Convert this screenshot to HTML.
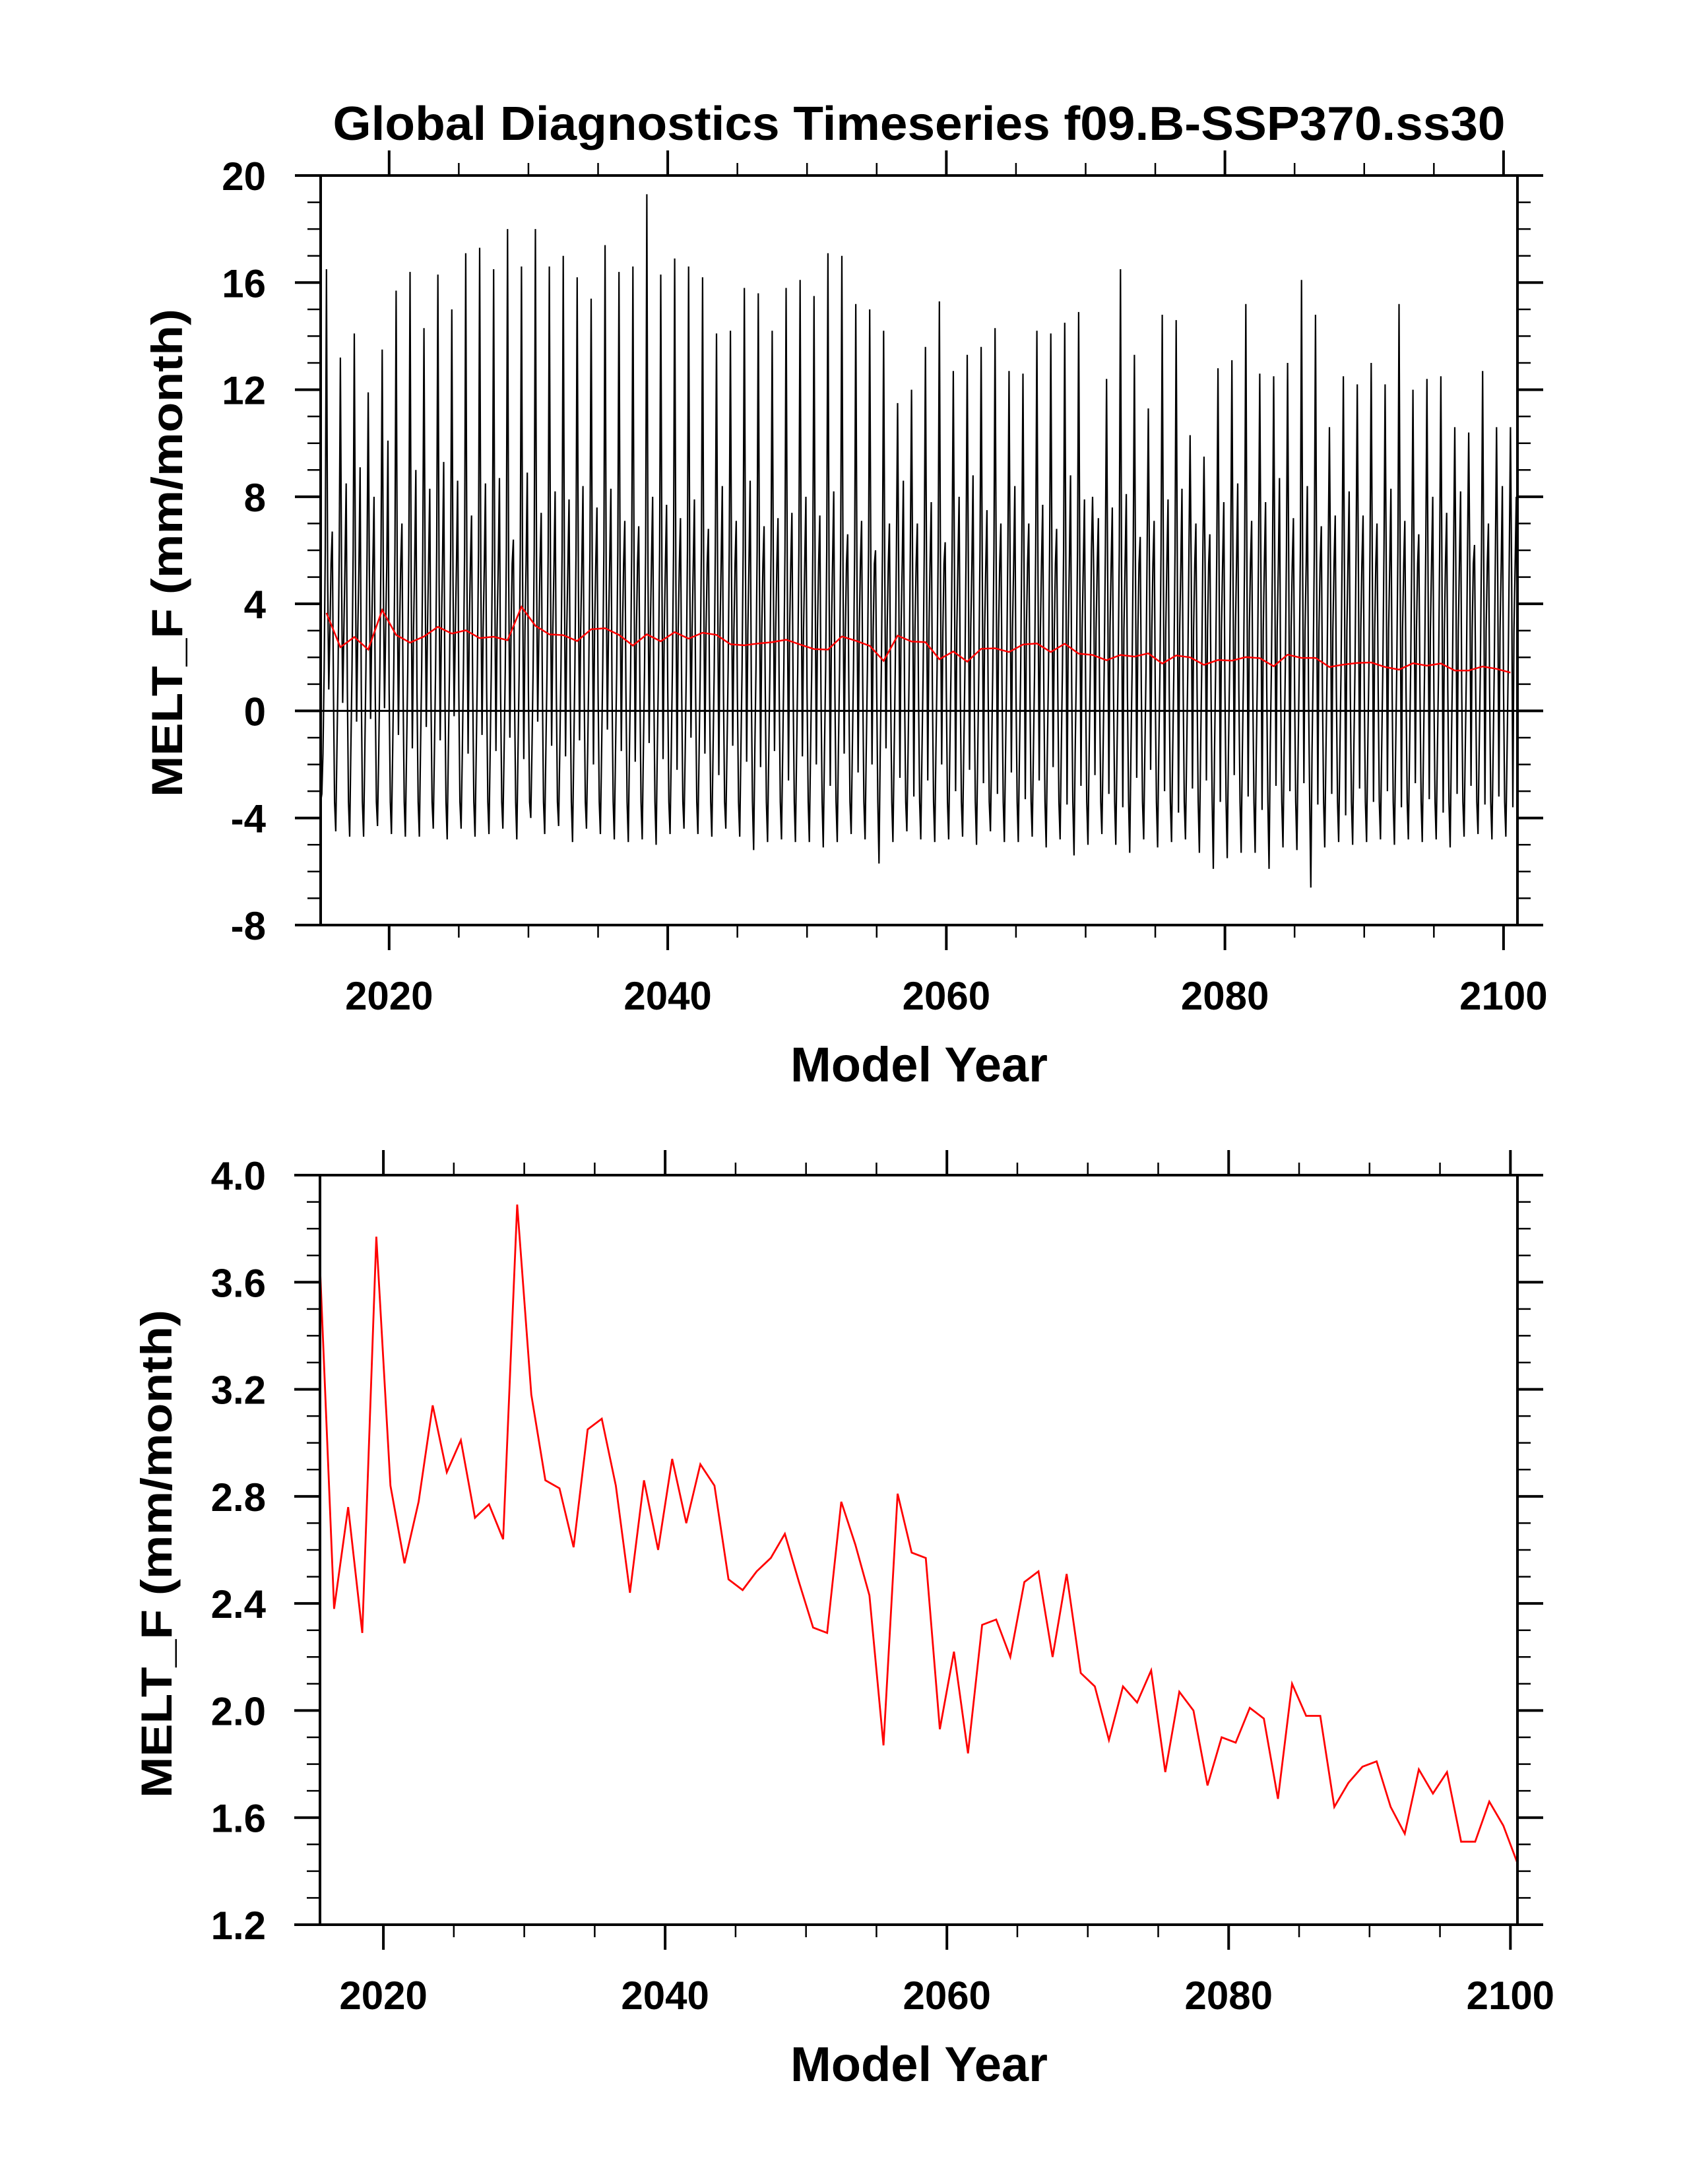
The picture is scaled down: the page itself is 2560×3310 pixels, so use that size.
<!DOCTYPE html>
<html><head><meta charset="utf-8">
<style>
html,body{margin:0;padding:0;background:#fff;}
svg{display:block;font-family:"Liberation Sans",Arial,sans-serif;font-weight:bold;}
</style></head>
<body>
<svg id="chart" width="2560" height="3310" viewBox="0 0 2560 3310" xmlns="http://www.w3.org/2000/svg">
<rect x="0" y="0" width="2560" height="3310" fill="#fff"/>
<text x="1393" y="212" text-anchor="middle" font-size="72" textLength="1777" lengthAdjust="spacingAndGlyphs">Global Diagnostics Timeseries f09.B-SSP370.ss30</text>
<g id="topPanel"></g>
<g id="botPanel"></g>
</svg>
<script>
const years = [];
for (let y = 2015; y <= 2100; y++) years.push(y);
const annualMean = [3.66,2.38,2.76,2.29,3.77,2.84,2.55,2.78,3.14,2.89,3.01,2.72,2.77,2.64,3.89,3.18,2.86,2.83,2.61,3.05,3.09,2.84,2.44,2.86,2.60,2.94,2.70,2.92,2.84,2.49,2.45,2.52,2.57,2.66,2.48,2.31,2.29,2.78,2.62,2.43,1.87,2.81,2.59,2.57,1.93,2.22,1.84,2.32,2.34,2.20,2.48,2.52,2.20,2.51,2.14,2.09,1.89,2.09,2.03,2.15,1.77,2.07,2.00,1.72,1.90,1.88,2.01,1.97,1.67,2.10,1.98,1.98,1.64,1.73,1.79,1.81,1.64,1.54,1.78,1.69,1.77,1.51,1.51,1.66,1.57,1.43];
const bigPeak = [16.5,13.2,14.1,11.9,13.5,15.7,16.4,14.3,16.3,15.0,17.1,17.3,16.5,18.0,16.6,18.0,16.6,17.0,16.2,15.4,17.4,16.4,16.6,19.3,16.3,16.9,16.6,16.2,14.1,14.2,15.8,15.6,14.2,15.8,16.1,15.5,17.1,17.0,15.2,15.0,14.2,11.5,12.0,13.6,15.3,12.7,13.3,13.6,14.3,12.7,12.6,14.2,14.1,14.5,14.9,8.0,12.4,16.5,13.3,11.3,14.8,14.6,10.3,9.5,12.8,13.1,15.2,12.6,12.5,13.0,16.1,14.8,10.6,12.5,12.2,13.0,12.2,15.2,12.0,12.4,12.5,10.6,10.4,12.7,10.6,10.6];
const midPeak = [6.7,8.5,9.1,8.0,10.1,7.0,9.0,8.3,9.3,8.6,7.3,8.5,8.7,6.4,8.9,7.4,8.2,7.9,8.4,7.6,8.3,7.1,6.9,8.0,7.7,7.2,7.9,6.8,8.4,7.1,8.6,6.9,7.2,7.4,8.0,7.3,8.2,6.6,7.1,6.0,7.0,8.6,7.0,7.8,6.3,8.0,8.8,7.5,7.0,8.4,7.0,7.7,6.8,8.8,7.9,7.2,7.6,8.1,6.5,7.1,7.9,8.3,7.0,6.6,7.8,8.5,7.1,7.8,8.7,7.2,8.4,6.9,7.3,8.2,7.3,7.0,8.3,7.1,6.6,8.0,7.4,8.2,6.2,7.0,8.4,8.0];
const shallowDip = [0.8,0.3,-0.4,-0.3,0.1,-0.9,-1.4,-0.6,-1.1,-0.2,-1.6,-0.9,-1.5,-1.0,-1.8,-0.4,-1.3,-1.7,-1.1,-2.0,-0.7,-1.5,-1.9,-1.2,-1.8,-2.2,-1.0,-1.6,-2.4,-1.3,-1.9,-2.1,-1.5,-2.6,-1.7,-2.0,-2.8,-1.6,-2.3,-2.0,-1.4,-2.5,-3.2,-2.6,-2.0,-3.0,-2.2,-2.7,-3.1,-2.3,-3.3,-2.6,-2.1,-3.5,-2.8,-2.4,-3.1,-3.6,-2.5,-2.2,-3.0,-3.8,-2.9,-2.6,-3.4,-2.4,-3.2,-3.7,-2.8,-3.0,-2.7,-3.5,-3.1,-3.9,-2.9,-3.4,-3.0,-3.6,-2.7,-3.3,-3.8,-3.1,-2.8,-3.5,-3.2,-3.6];
const trough = [-3.1,-4.5,-4.7,-4.7,-4.3,-4.6,-4.7,-4.7,-4.4,-4.8,-4.4,-4.7,-4.6,-4.4,-4.8,-4.0,-4.6,-4.3,-4.9,-4.4,-4.6,-4.8,-4.9,-4.8,-5.0,-4.6,-4.4,-4.6,-4.7,-4.4,-4.7,-5.2,-4.9,-4.8,-4.9,-4.9,-5.1,-4.9,-4.6,-4.8,-5.7,-4.9,-4.5,-4.8,-4.9,-4.8,-4.7,-5.0,-4.5,-4.9,-4.9,-4.7,-5.1,-4.8,-5.4,-5.0,-4.6,-5.0,-5.3,-4.8,-5.1,-4.9,-4.8,-5.3,-5.9,-5.5,-5.3,-5.3,-5.9,-5.1,-5.2,-6.6,-5.1,-4.9,-5.0,-4.9,-4.8,-5.0,-4.8,-4.9,-4.8,-5.1,-4.7,-4.6,-4.8,-4.7];
const yTicksTop = [-8,-4,0,4,8,12,16,20];
const yTicksBot = [1.2,1.6,2.0,2.4,2.8,3.2,3.6,4.0];
const xTicks = [2020,2040,2060,2080,2100];

const NS = "http://www.w3.org/2000/svg";
function mk(parent, tag, attrs) {
  const e = document.createElementNS(NS, tag);
  for (const k in attrs) e.setAttribute(k, attrs[k]);
  parent.appendChild(e);
  return e;
}

function drawPanel(g, L, R, T, B, x0, x1, y0, y1, yMajor, yMinorStep, yTicks, fmt) {
  const sx = v => L + (v - x0) / (x1 - x0) * (R - L);
  const sy = v => B - (v - y0) / (y1 - y0) * (B - T);
  for (let yr = 2015; yr <= 2100; yr += 5) {
    if (yr < x0 || yr > x1) continue;
    const maj = yr % 20 === 0;
    const len = maj ? 38 : 19;
    const x = sx(yr);
    const t1 = mk(g, 'line', {x1: x, x2: x, y1: B, y2: B + len, stroke: '#000', 'stroke-width': maj ? 4 : 2.5});
    
    
    const t2 = mk(g, 'line', {x1: x, x2: x, y1: T, y2: T - len, stroke: '#000', 'stroke-width': maj ? 4 : 2.5});
    
    
  }
  const nMinor = Math.round((y1 - y0) / yMinorStep);
  const per = Math.round(yMajor / yMinorStep);
  for (let i = 0; i <= nMinor; i++) {
    const v = y0 + i * yMinorStep;
    const maj = i % per === 0;
    const len = maj ? 39 : 20;
    const y = sy(v);
    const a = mk(g, 'line', {x1: L, x2: L - len, y1: y, y2: y, stroke: '#000', 'stroke-width': maj ? 4 : 2.5});
    
    
    const b = mk(g, 'line', {x1: R, x2: R + len, y1: y, y2: y, stroke: '#000', 'stroke-width': maj ? 4 : 2.5});
    
    
  }
  yTicks.forEach(v => {
    const t = mk(g, 'text', {x: 403, y: sy(v) + 22, 'text-anchor': 'end', 'font-size': 60});
    t.textContent = fmt(v);
    
    
  });
  xTicks.forEach(v => {
    const t = mk(g, 'text', {x: sx(v), y: B + 128, 'text-anchor': 'middle', 'font-size': 60});
    t.textContent = v;
    
    
  });
  const xl = mk(g, 'text', {x: 1393, y: B + 237, 'text-anchor': 'middle', 'font-size': 74, textLength: 390, lengthAdjust: 'spacingAndGlyphs'});
  xl.textContent = 'Model Year';
  
  
  return {sx, sy};
}

function yLabel(g, cx, cy) {
  const t = mk(g, 'text', {x: 0, y: 0, 'text-anchor': 'middle', 'font-size': 66, textLength: 740, lengthAdjust: 'spacingAndGlyphs', transform: 'translate(' + cx + ',' + cy + ') rotate(-90)'});
  t.textContent = 'MELT_F (mm/month)';
  
  
}

// ---- top panel ----
const gTop = document.getElementById('topPanel');
const TL = 486, TR = 2300, TT = 266, TB = 1402;
const topAx = drawPanel(gTop, TL, TR, TT, TB, 2015 + 1/12, 2101, -8, 20, 4, 1, yTicksTop, v => String(v));
yLabel(gTop, 276, 838);
const zl = mk(gTop, 'line', {x1: TL, x2: TR, y1: topAx.sy(0), y2: topAx.sy(0), stroke: '#000', 'stroke-width': 3});


const pts = [];
years.forEach((yr, i) => {
  const m = [-3.4, trough[i], -1.6, 1.5, 6.0, bigPeak[i], 5.0, shallowDip[i], 3.0, 5.5, midPeak[i], 0.8];
  m.forEach((v, k) => { pts.push(topAx.sx(yr + (k + 1) / 12).toFixed(1) + ',' + topAx.sy(v).toFixed(1)); });
});
const ml = mk(gTop, 'polyline', {points: pts.join(' '), fill: 'none', stroke: '#000', 'stroke-width': 2.2});


const rt = mk(gTop, 'polyline', {points: years.map((yr, i) => topAx.sx(yr + 0.5).toFixed(1) + ',' + topAx.sy(annualMean[i]).toFixed(1)).join(' '), fill: 'none', stroke: '#f00', 'stroke-width': 2.5});


const ft = mk(gTop, 'rect', {x: TL, y: TT, width: TR - TL, height: TB - TT, fill: 'none', stroke: '#000', 'stroke-width': 4});



// ---- bottom panel ----
const gBot = document.getElementById('botPanel');
const BL = 485, BR = 2300, BT = 1781, BB = 2917;
const botAx = drawPanel(gBot, BL, BR, BT, BB, 2015.5, 2100.5, 1.2, 4.0, 0.4, 0.1, yTicksBot, v => v.toFixed(1));
yLabel(gBot, 260, 2355);
const rb = mk(gBot, 'polyline', {points: years.map((yr, i) => botAx.sx(yr + 0.5).toFixed(1) + ',' + botAx.sy(annualMean[i]).toFixed(1)).join(' '), fill: 'none', stroke: '#f00', 'stroke-width': 2.8});


const fb = mk(gBot, 'rect', {x: BL, y: BT, width: BR - BL, height: BB - BT, fill: 'none', stroke: '#000', 'stroke-width': 4});


</script>
</body></html>
